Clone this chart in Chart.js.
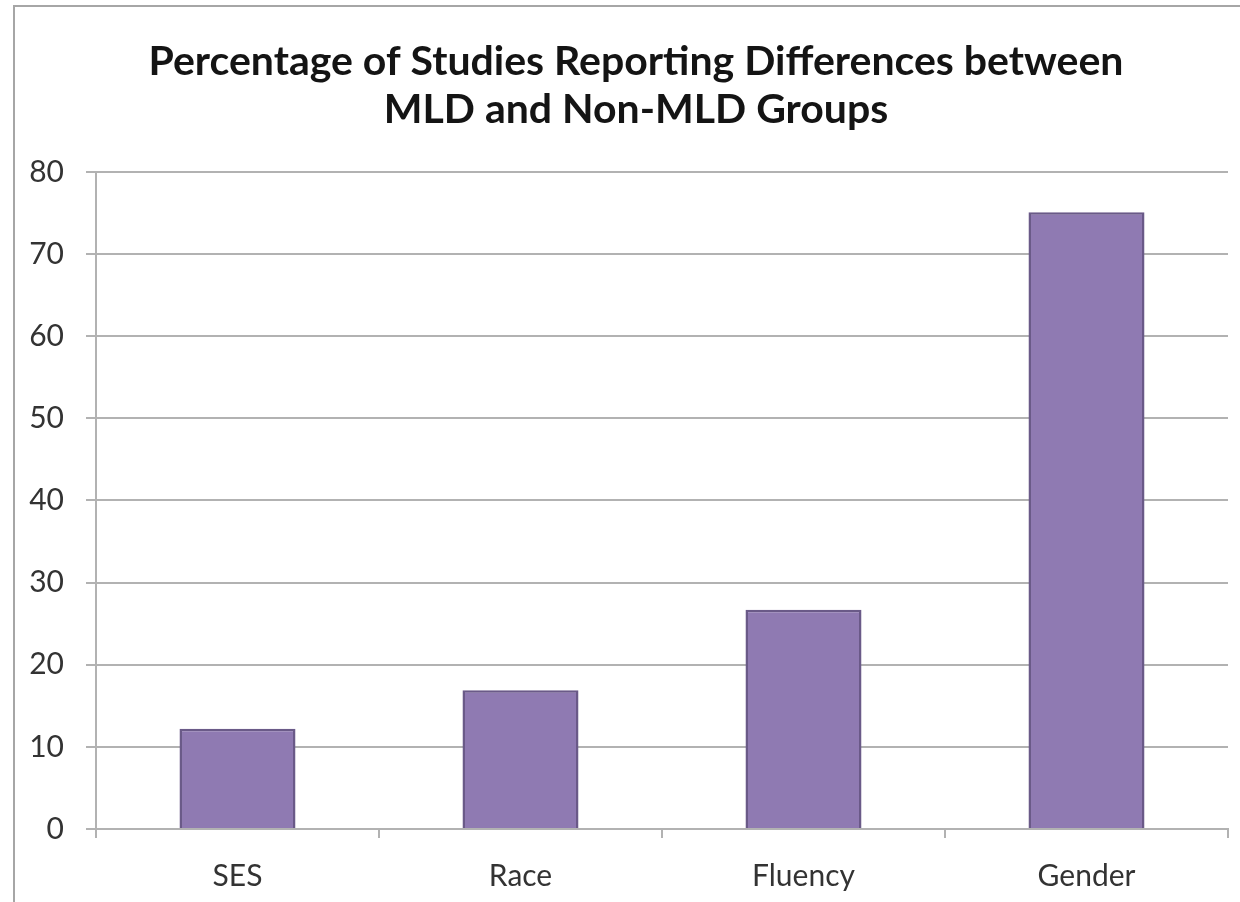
<!DOCTYPE html>
<html>
<head>
<meta charset="utf-8">
<title>Percentage of Studies Reporting Differences between MLD and Non-MLD Groups</title>
<script src="https://cdn.jsdelivr.net/npm/chart.js@4.4.1/dist/chart.umd.min.js"></script>
<style>
  html, body { margin: 0; padding: 0; background: #ffffff; }
  #wrap { width: 1240px; height: 902px; }
</style>
</head>
<body>
<div id="wrap"><canvas id="chart" width="1240" height="902"></canvas></div>
<script>
// Chart data
const titleLines = ['Percentage of Studies Reporting Differences between', 'MLD and Non-MLD Groups'];
const categories = ['SES', 'Race', 'Fluency', 'Gender'];
const percentages = [12.2, 16.9, 26.7, 75.1];
const yTicks = [0, 10, 20, 30, 40, 50, 60, 70, 80];

const FONT = 'Lato, "Open Sans", "Liberation Sans", sans-serif';
const GRID = '#b2b2b2';

// Thin frame around the whole chart object
const frame = {
  id: 'frame',
  beforeDraw(chart) {
    const ctx = chart.ctx;
    ctx.save();
    ctx.fillStyle = '#ffffff';
    ctx.fillRect(0, 0, chart.width, chart.height);
    ctx.strokeStyle = '#a6a6a6';
    ctx.lineWidth = 2;
    ctx.strokeRect(14, 6, chart.width + 20, chart.height + 20);
    ctx.restore();
  }
};

// Centre the title over the frame rather than over the canvas
const titleShift = {
  id: 'titleShift',
  afterLayout(chart) {
    const t = chart.titleBlock;
    if (t) { t.left += 22; t.right += 22; }
  }
};

new Chart(document.getElementById('chart'), {
  type: 'bar',
  data: {
    labels: categories,
    datasets: [{
      data: percentages,
      backgroundColor: '#8f7ab2',
      borderColor: '#6a5a88',
      borderWidth: 2.5,
      categoryPercentage: 0.41,
      barPercentage: 1.0
    }]
  },
  options: {
    responsive: false,
    animation: false,
    layout: { padding: { left: 0, right: 12, top: 0, bottom: 0 } },
    plugins: {
      legend: { display: false },
      tooltip: { enabled: false },
      title: {
        display: true,
        text: titleLines,
        color: '#141414',
        font: { family: FONT, size: 41, weight: 'bold', lineHeight: 1.17 },
        padding: { top: 38, bottom: 38 }
      }
    },
    scales: {
      y: {
        min: 0,
        max: 80,
        afterBuildTicks(scale) { scale.ticks = yTicks.map(v => ({ value: v })); },
        afterFit(scale) { scale.width = 96; },
        ticks: {
          color: '#333333',
          font: { family: FONT, size: 30 },
          padding: 22
        },
        grid: { color: GRID, lineWidth: 2, tickLength: 10 },
        border: { display: true, color: GRID, width: 2 }
      },
      x: {
        afterFit(scale) { scale.height = 73; },
        ticks: {
          color: '#333333',
          font: { family: FONT, size: 30 },
          padding: 20
        },
        grid: { display: true, drawOnChartArea: false, color: GRID, lineWidth: 2, tickLength: 9 },
        border: { display: true, color: GRID, width: 2 }
      }
    }
  },
  plugins: [frame, titleShift]
});
</script>
</body>
</html>
